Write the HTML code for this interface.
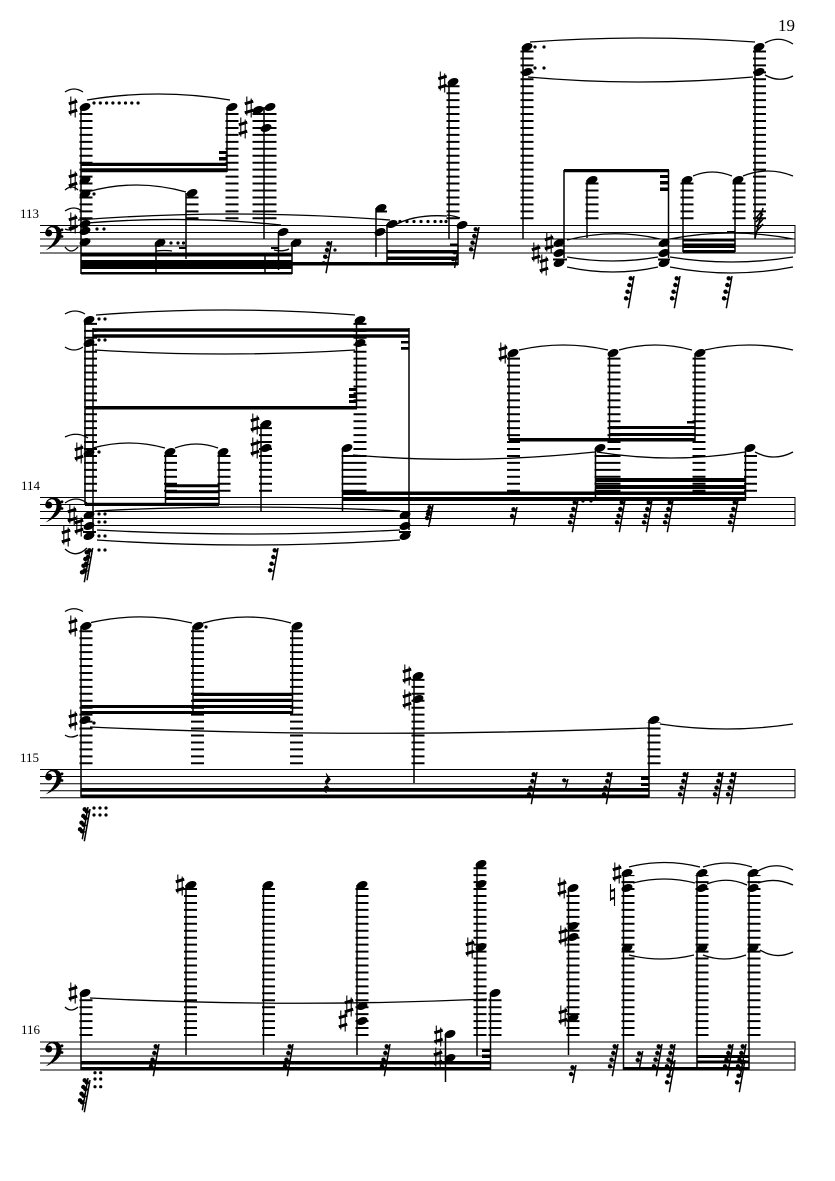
<!DOCTYPE html>
<html><head><meta charset="utf-8"><style>
html,body{margin:0;padding:0;background:#fff}
svg{display:block}
.st{stroke:#000;stroke-width:1;fill:none}
.s{stroke:#000;stroke-width:1.5;fill:none}
.l{stroke:#000;stroke-dasharray:2 4.95;fill:none}
.sl{stroke:#000;stroke-width:1.3;fill:none}
text{font-family:"Liberation Serif",serif;fill:#000}
</style></head><body>
<svg xmlns="http://www.w3.org/2000/svg" width="835" height="1181" viewBox="0 0 835 1181">
<defs>
<ellipse id="n" rx="5.7" ry="3.7" transform="rotate(-22)"/>
<g id="h"><path d="M-2.2-10.500V8.500M2.2-8.500V10.500" stroke="#000" stroke-width="1.1" fill="none"/><path d="M-4.200-3.200L4.200-5.800M-4.200 5.800L4.200 3.200" stroke="#000" stroke-width="3" fill="none"/></g>
<g id="r4"><path d="M0 0L-5.7 32.3" stroke="#000" stroke-width="1.5"/><circle cx="-3.3" cy="2.3" r="2.2"/><circle cx="-4.7" cy="9" r="2.2"/><circle cx="-6.5" cy="15.7" r="2.2"/><circle cx="-8" cy="22.3" r="2.2"/><path d="M-3.3 4L-.4 2.6M-4.7 10.700L-1.6 9.2M-6.5 17.400L-2.8 16M-8 24L-4 22.5" stroke="#000" stroke-width="1.2"/></g>
<g id="r2"><path d="M0 0L-3.4 18" stroke="#000" stroke-width="1.5"/><circle cx="-3.5" cy="2.3" r="2.2"/><circle cx="-5" cy="9" r="2.2"/><path d="M-3.5 4L-.4 2.6M-5 10.700L-1.6 9.2" stroke="#000" stroke-width="1.2"/></g>
<g id="r1"><path d="M0 0L-2.8 11" stroke="#000" stroke-width="1.4"/><circle cx="-3.8" cy="1.3" r="2.1"/><path d="M-3.8 3L-.4 1.6" stroke="#000" stroke-width="1.2"/></g>
<g id="c"><path d="M45.500 7C45.500 1 52-1 55-.5C60.500 .5 62 5 61.500 9C60.500 16.500 52.500 21.500 45.500 24.500C50.500 20.500 56.500 14 56.500 8C56.500 3 54 1 51 1.500C48.500 2 47 4 47.500 5Z"/><circle cx="48.700" cy="7" r="3.500"/><circle cx="62" cy="3.800" r="1.400"/><circle cx="62" cy="10.500" r="1.400"/></g>
</defs>
<rect width="835" height="1181" fill="#fff"/>
<text x="778" y="31" font-size="17">19</text>
<text x="20" y="218" font-size="13">113</text>
<text x="21" y="490" font-size="13">114</text>
<text x="20" y="762" font-size="13">115</text>
<text x="21" y="1034" font-size="13">116</text>

<!-- staves -->
<path class="st" d="M40 225.500H795M40 232.500H795M40 239H795M40 246H795M40 253H795M795 225V253.500"/>
<path class="st" d="M40 497.500H795M40 504.500H795M40 511.500H795M40 518.500H795M40 525.500H795M795 497V526"/>
<path class="st" d="M40 769.500H795M40 776.500H795M40 783.700H795M40 790.700H795M40 797.700H795M795 769V798"/>
<path class="st" d="M40 1042H795M40 1049H795M40 1056H795M40 1063H795M40 1070H795M795 1041.500V1070.500"/>
<use href="#c" y="226"/><use href="#c" y="498"/><use href="#c" y="770"/><use href="#c" y="1042"/>

<!-- ledgers -->
<g class="l" stroke-width="13">
<path d="M86 219.300V109M232 219.300V109M192 219.300V195M86 219.300V178M453 219.300V84M527 219.300V49M759.500 219.300V49M592 219.300V182M687 219.300V182M739 219.300V182"/>
<path d="M90.500 491.700V322M360 491.700V322M170.500 491.700V454M224 491.700V454M265.500 491.700V426M348 491.700V450M513.500 491.700V355M614 491.700V355M699 491.700V355M601 491.700V450M750.500 491.700V450"/>
<path d="M86 764.300V628M197.500 764.300V628M296.500 764.300V628M418 764.300V678M654 764.300V722"/>
<path d="M86 1036V995M190.500 1036V887M268.500 1036V887M362 1036V887M480 1036V866M495 1036V995M573 1036V890M628 1036V875M702 1036V875M754 1036V875"/>
</g>
<path class="l" stroke-width="24" d="M264.500 219.300V109"/>
<path d="M553 259.500H567M658 259.500H670M376 211.500H387M179 248H186M271 248H278M399 532H411M83 532H96" stroke="#000" stroke-width="2" fill="none"/>

<!-- stems -->
<path class="s" d="M81 107V274M227 107V172M186 193V259M264 107V239M156 243V274M278.500 232V270M292 243V274M265 255V274M376 208V257M387 224V265M458 225V265M449 82V239M523 47V239M755 47V239M564 170V258M668.500 170V258M587 180V238M683 180V252M735 180V252"/>
<path class="s" d="M85 320V505M93 328V535M409 328V530M356.500 320V407M165.500 452V503M219 452V505M261 424V511M342.500 448V511M509 353V440M609.500 353V440M695 353V441M595.500 448V500M745.500 448V500"/>
<path class="s" d="M81 626V797M193 626V713M292.500 626V713M414 676V783M649 720V797"/>
<path class="s" d="M81 993V1070M186 885V1055M263.500 885V1055M357 885V1055M477 864V1056M490.500 993V1070M445.500 1034V1082M568.500 888V1055M623.500 873V1070M697 873V1070M749 873V1070"/>

<!-- beams -->
<path d="M81 162.700H227V166H81ZM81 168.300H227V172.300H81ZM219 151H227V154H219ZM219 157H227V160.500H219ZM81 252.500H292V256.500H81ZM81 260H292V269H81ZM81 272H292V274.500H81ZM292 262H387V265.500H292ZM387 250H458V253.500H387ZM387 256.500H458V260H387ZM387 262H458V265.500H387ZM450 243.500H458V246.500H450ZM564 169H669V172.300H564ZM660 175H669V178H660ZM660 181H669V184.500H660ZM660 187.500H669V191H660ZM683 238.500H735V241.500H683ZM683 243.500H735V248H683ZM683 250H735V252.500H683ZM727 231H735V233.500H727Z"/>
<path d="M93 328.300H409V331.700H93ZM93 334.300H409V337.700H93ZM401 341H409V343.500H401ZM401 347H409V349.700H401ZM85 406H357V409.500H85ZM349 388H356.500V391H349ZM349 394H356.500V398H349ZM349 400H356.500V403H349ZM165 484.300H219V487.300H165ZM165 490.300H219V493.300H165ZM165 497H219V500H165ZM85 502.700H219V506H85ZM342 491.500H746V495H342ZM342 497H746V501H342ZM595 478H746V482H595ZM595 485H746V489H595ZM509 438H610V441.500H509ZM609 426H695V429H609ZM609 433H695V436H609ZM609 438H695V441.500H609ZM687 421H695V423.500H687Z"/>
<path d="M81 705H193V708H81ZM81 711H293V714H81ZM193 692.700H293V696H193ZM193 698.700H293V702H193ZM193 705H293V708H193ZM81 788H649V791.700H81ZM81 794.500H649V798H81ZM641 777H649V780H641ZM641 783H649V786H641Z"/>
<path d="M81 1061H490.500V1064.500H81ZM81 1067H490.500V1070.300H81ZM482 1048.500H490.500V1052H482ZM482 1054.500H490.500V1058H482ZM623.500 1067H749V1070.300H623.500ZM697 1055H749V1058H697ZM697 1060.500H749V1063.500H697Z"/>
<path d="M755 238L763 208M756 222L763 214M756 227L763 219M756 232L763 224M756 218L763 210" stroke="#000" stroke-width="1.600" fill="none"/>

<!-- slurs -->
<g class="sl">
<path d="M87 100Q158 88 230 100M65 92Q74 86 83 92M87 192Q136 178 186 192M65 190Q72 184 78 190M78 220Q234 208 390 220M87 223Q184 215 281 225M65 211Q74 205 82 211M65 247Q71 255 78 247M65 229Q71 232 78 226M156 251Q165 250 172 251M274 250Q283 252 289 249"/>
<path d="M395 225Q415 214 447 216M447 215Q455 216 460 218M530 42Q642 34 755 42M528 77Q640 87 753 77M765 43Q779 35 793 44M765 75Q779 83 793 76"/>
<path d="M567 240Q613 228 660 239M567 257Q613 265 658 257M567 267Q613 277 658 267M670 239Q731 227 793 239M670 257Q731 267 793 257M670 267Q731 279 793 267M693 176Q712 168 732 176M743 176Q768 166 793 176"/>
<path d="M96 315Q225 305 355 315M95 350Q225 358 355 350M65 314Q75 308 85 314M65 347Q74 353 83 347M65 437Q77 431 88 438M93 448Q129 438 165 448M175 448Q196 440 218 448M65 503Q76 495 87 503M353 455Q470 465 595 452M597 452Q671 464 745 452M755 452Q774 462 793 452M519 350Q563 340 608 350M619 350Q655 340 692 350M705 350Q749 340 793 350M95 511Q247 503 400 511M97 530Q247 538 400 530M97 540Q247 550 400 540M65 549Q76 559 87 548"/>
<path d="M91 622.500Q141 611 192 623M203 623Q247 611 291 623M65 611.500Q74 606 83 611.500M90 727Q350 739 648 728M65 735Q71 739 78 735M660 724Q726 734 793 724"/>
<path d="M90 998Q290 1008 487 999M65 1007Q71 1013 78 1007M629 867Q664 858 700 867M703 867Q727 859 752 867M758 871Q775 861 793 870M633 883Q664 875 695 883M707 884Q727 876 747 885M758 883Q775 877 793 885M629 955Q661 963 694 955M703 955Q724 963 746 955M760 950Q776 960 793 952"/>
</g>

<!-- note heads -->
<g>
<use href="#n" x="85" y="107"/><use href="#n" x="232" y="107"/><use href="#n" x="258" y="110"/><use href="#n" x="270" y="107"/><use href="#n" x="266" y="128"/><use href="#n" x="85" y="180"/><use href="#n" x="85" y="194"/><use href="#n" x="192" y="193"/><use href="#n" x="85" y="224"/><use href="#n" x="85" y="231"/><use href="#n" x="85" y="242"/><use href="#n" x="160" y="243"/><use href="#n" x="283" y="232"/><use href="#n" x="296" y="243"/><use href="#n" x="381" y="208"/><use href="#n" x="380" y="232"/><use href="#n" x="392" y="224"/><use href="#n" x="462" y="225"/><use href="#n" x="453" y="82"/><use href="#n" x="527" y="47"/><use href="#n" x="527" y="72"/><use href="#n" x="759" y="47"/><use href="#n" x="759" y="72"/><use href="#n" x="559" y="243"/><use href="#n" x="559" y="253"/><use href="#n" x="559" y="263"/><use href="#n" x="664" y="243"/><use href="#n" x="664" y="253"/><use href="#n" x="664" y="263"/><use href="#n" x="592" y="180"/><use href="#n" x="687" y="180"/><use href="#n" x="738" y="180"/>
<use href="#n" x="89" y="320"/><use href="#n" x="89" y="343"/><use href="#n" x="360" y="320"/><use href="#n" x="360" y="343"/><use href="#n" x="89" y="453"/><use href="#n" x="170" y="452"/><use href="#n" x="223" y="452"/><use href="#n" x="266" y="424"/><use href="#n" x="266" y="448"/><use href="#n" x="347" y="448"/><use href="#n" x="513" y="353"/><use href="#n" x="613" y="353"/><use href="#n" x="700" y="353"/><use href="#n" x="600" y="448"/><use href="#n" x="750" y="448"/><use href="#n" x="89" y="515"/><use href="#n" x="89" y="526"/><use href="#n" x="89" y="536"/><use href="#n" x="405" y="515"/><use href="#n" x="405" y="526"/><use href="#n" x="405" y="536"/>
<use href="#n" x="86" y="626"/><use href="#n" x="198" y="626"/><use href="#n" x="297" y="626"/><use href="#n" x="85" y="720"/><use href="#n" x="654" y="720"/><use href="#n" x="418" y="676"/><use href="#n" x="418" y="699"/>
<use href="#n" x="85" y="993"/><use href="#n" x="191" y="885"/><use href="#n" x="268" y="885"/><use href="#n" x="362" y="885"/><use href="#n" x="362" y="1006"/><use href="#n" x="362" y="1021"/><use href="#n" x="481" y="864"/><use href="#n" x="481" y="884"/><use href="#n" x="481" y="947"/><use href="#n" x="495" y="993"/><use href="#n" x="450" y="1034"/><use href="#n" x="450" y="1058"/><use href="#n" x="573" y="888"/><use href="#n" x="573" y="926"/><use href="#n" x="573" y="937"/><use href="#n" x="573" y="1018"/><use href="#n" x="627" y="873"/><use href="#n" x="627" y="888"/><use href="#n" x="627" y="948"/><use href="#n" x="702" y="873"/><use href="#n" x="702" y="888"/><use href="#n" x="702" y="948"/><use href="#n" x="753" y="873"/><use href="#n" x="753" y="888"/><use href="#n" x="753" y="948"/>
</g>

<!-- sharps -->
<g>
<use href="#h" x="73" y="107"/><use href="#h" x="249" y="107"/><use href="#h" x="243" y="128"/><use href="#h" x="73" y="180"/><use href="#h" x="73" y="223"/><use href="#h" x="442.500" y="82"/><use href="#h" x="549" y="243"/><use href="#h" x="536" y="253"/><use href="#h" x="544" y="265"/>
<use href="#h" x="79" y="453"/><use href="#h" x="255" y="424"/><use href="#h" x="255" y="448"/><use href="#h" x="503" y="353"/><use href="#h" x="72" y="515"/><use href="#h" x="79" y="526"/><use href="#h" x="66" y="536"/>
<use href="#h" x="73" y="626"/><use href="#h" x="73" y="720"/><use href="#h" x="407" y="675"/><use href="#h" x="407" y="700"/>
<use href="#h" x="73" y="993"/><use href="#h" x="180" y="885"/><use href="#h" x="349" y="1006"/><use href="#h" x="343" y="1021"/><use href="#h" x="470" y="948"/><use href="#h" x="438.500" y="1036"/><use href="#h" x="438" y="1058"/><use href="#h" x="562" y="888"/><use href="#h" x="563" y="936"/><use href="#h" x="563" y="1016"/><use href="#h" x="617" y="873"/>
</g>
<path d="M610.500 880V897M614.500 884V902" stroke="#000" stroke-width="1.100" fill="none" transform="translate(0 4)"/><path d="M610.500 891L614.500 890M610.500 899L614.500 898" stroke="#000" stroke-width="2.400" fill="none"/>

<!-- dots -->
<g>
<circle cx="94" cy="103" r="1.6"/><circle cx="100.300" cy="103" r="1.6"/><circle cx="106.600" cy="103" r="1.6"/><circle cx="112.900" cy="103" r="1.6"/><circle cx="119.200" cy="103" r="1.6"/><circle cx="125.500" cy="103" r="1.6"/><circle cx="131.800" cy="103" r="1.6"/><circle cx="138.100" cy="103" r="1.6"/><circle cx="94" cy="194" r="1.6"/><circle cx="97" cy="229" r="1.6"/><circle cx="104" cy="229" r="1.6"/><circle cx="171" cy="243" r="1.6"/><circle cx="178" cy="243" r="1.6"/><circle cx="183.500" cy="243" r="1.6"/><circle cx="335" cy="250" r="1.6"/><circle cx="400" cy="221.500" r="1.6"/><circle cx="407" cy="221.500" r="1.6"/><circle cx="414" cy="221.500" r="1.6"/><circle cx="421" cy="221.500" r="1.6"/><circle cx="428" cy="221.500" r="1.6"/><circle cx="435" cy="221.500" r="1.6"/><circle cx="441" cy="221.500" r="1.6"/><circle cx="446" cy="221.500" r="1.6"/><circle cx="535" cy="47" r="1.6"/><circle cx="544" cy="47" r="1.6"/><circle cx="535" cy="68" r="1.6"/><circle cx="544" cy="68" r="1.6"/>
<circle cx="99" cy="319" r="1.6"/><circle cx="105" cy="319" r="1.6"/><circle cx="99" cy="340" r="1.6"/><circle cx="105" cy="340" r="1.6"/><circle cx="99" cy="452" r="1.6"/><circle cx="99" cy="514" r="1.6"/><circle cx="105" cy="514" r="1.6"/><circle cx="99" cy="522" r="1.6"/><circle cx="105" cy="522" r="1.6"/><circle cx="99" cy="536" r="1.6"/><circle cx="105" cy="536" r="1.6"/><circle cx="99" cy="550" r="1.6"/><circle cx="105" cy="550" r="1.6"/><circle cx="583" cy="501" r="1.6"/><circle cx="591" cy="501" r="1.6"/>
<circle cx="206" cy="627" r="1.6"/><circle cx="94" cy="723" r="1.6"/><circle cx="94" cy="808" r="1.6"/><circle cx="100" cy="808" r="1.6"/><circle cx="106" cy="808" r="1.6"/><circle cx="94" cy="815" r="1.6"/><circle cx="100" cy="815" r="1.6"/><circle cx="106" cy="815" r="1.6"/>
<circle cx="95" cy="1072.700" r="1.6"/><circle cx="100.700" cy="1072.700" r="1.6"/><circle cx="95" cy="1079" r="1.6"/><circle cx="100.700" cy="1079" r="1.6"/><circle cx="95" cy="1086.700" r="1.6"/><circle cx="100.700" cy="1086.700" r="1.6"/>
</g>

<!-- rests -->
<g>
<use href="#r4" x="331.700" y="241"/><use href="#r4" x="479" y="227"/><use href="#r2" x="458" y="250"/><use href="#r4" x="634" y="276"/><use href="#r4" x="680" y="276"/><use href="#r4" x="732" y="276"/>
<use href="#r4" x="92.700" y="548"/><use href="#r4" x="90" y="550"/><use href="#r4" x="278" y="548"/><use href="#r2" x="433" y="505"/><use href="#r2" x="432" y="509"/><use href="#r2" x="517" y="507"/><use href="#r4" x="578" y="500"/><use href="#r4" x="625" y="500"/><use href="#r4" x="652" y="500"/><use href="#r4" x="673" y="500"/><use href="#r4" x="738" y="500"/>
<use href="#r4" x="88" y="807"/><use href="#r4" x="90" y="809"/><use href="#r4" x="537" y="772"/><use href="#r4" x="612" y="772"/><use href="#r1" x="568" y="779"/><use href="#r4" x="688" y="772"/><use href="#r4" x="723" y="772"/><use href="#r4" x="736" y="772"/>
<use href="#r4" x="159" y="1044"/><use href="#r4" x="293" y="1044"/><use href="#r4" x="390" y="1044"/><use href="#r4" x="88" y="1078"/><use href="#r4" x="90" y="1080"/><use href="#r2" x="576" y="1065"/><use href="#r4" x="618" y="1044"/><use href="#r2" x="642.700" y="1051"/><use href="#r4" x="662" y="1044"/><use href="#r4" x="675" y="1044"/><use href="#r4" x="675" y="1060"/><use href="#r4" x="733" y="1044"/><use href="#r4" x="746" y="1044"/><use href="#r4" x="745" y="1060"/>
</g>
<path d="M326 773L330.500 779.500L326.500 784.500L330 789L326 789C324.500 789 325 792 327 793C323.500 792 323 787 326 786L327.500 786.500L325 781.500L327.500 778Z" stroke="#000" stroke-width=".6"/>
</svg>
</body></html>
